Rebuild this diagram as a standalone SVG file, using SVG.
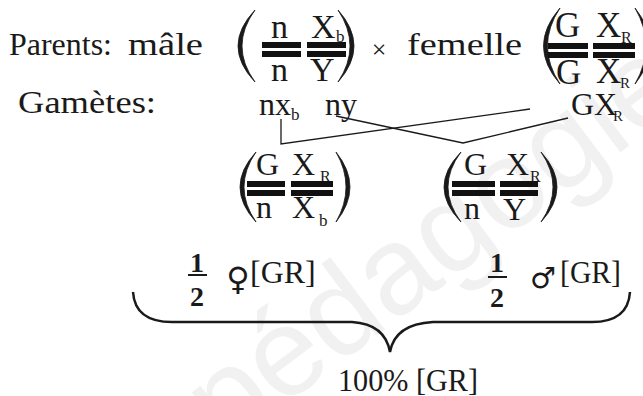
<svg xmlns="http://www.w3.org/2000/svg" width="643" height="396" viewBox="0 0 643 396" font-family="Liberation Serif, Times New Roman, serif">
<style>
.t{font-family:'Liberation Serif','Times New Roman',Tinos,'DejaVu Serif',serif;fill:#1a1a1a}
.m{font-size:32px}
.c{font-size:34px}
.s{font-size:17px}
.b{font-size:28px;font-weight:bold}
.bar{fill:#111}
.par{fill:#1a1a1a;stroke:#1a1a1a;stroke-width:0.8}
.ln{fill:none;stroke:#1a1a1a;stroke-width:1.3}
.wm{font-family:'Liberation Sans',Arial,sans-serif;font-size:125px;fill:#f1f1f1}
</style>
<text class="wm" transform="translate(225,450) rotate(-37)">pédagogie</text>

<g id="labels">
<text class="t m" x="9" y="55" textLength="103" lengthAdjust="spacingAndGlyphs">Parents:</text>
<text class="t m" x="128" y="55" textLength="75" lengthAdjust="spacingAndGlyphs">mâle</text>
<text class="t m" x="18" y="113" textLength="138" lengthAdjust="spacingAndGlyphs">Gamètes:</text>
<text class="t m" x="379" y="58" text-anchor="middle" style="font-size:26px">×</text>
<text class="t m" x="407" y="55" textLength="115" lengthAdjust="spacingAndGlyphs">femelle</text>
</g>

<g id="parent-male">
<path class="par" d="M255,10 Q221,46 255,82 Q229,46 255,10 Z"/>
<path class="par" d="M338,10 Q370,46 338,82 Q362,46 338,10 Z"/>
<text class="t c" x="271" y="38">n</text>
<text class="t c" x="311" y="38">X</text>
<text class="t s" x="336" y="42">b</text>
<rect class="bar" x="262" y="42" width="39" height="6"/>
<rect class="bar" x="262" y="51" width="39" height="6"/>
<rect class="bar" x="307" y="42" width="39" height="6"/>
<rect class="bar" x="307" y="51" width="39" height="6"/>
<text class="t c" x="271" y="81">n</text>
<text class="t c" x="310" y="81">Y</text>
</g>

<g id="parent-femelle">
<path class="par" d="M560,8 Q527,46 560,84 Q535,46 560,8 Z"/>
<path class="par" d="M635,8 Q665,46 635,84 Q657,46 635,8 Z"/>
<text class="t c" x="555" y="37" style="font-size:35px">G</text>
<text class="t c" x="596" y="37" style="font-size:35px">X</text>
<text class="t s" x="621" y="43" style="font-size:16px">R</text>
<rect class="bar" x="548" y="43" width="40" height="6"/>
<rect class="bar" x="548" y="52" width="40" height="6"/>
<rect class="bar" x="593" y="43" width="42" height="6"/>
<rect class="bar" x="593" y="52" width="42" height="6"/>
<text class="t c" x="556" y="84" style="font-size:35px">G</text>
<text class="t c" x="596" y="83" style="font-size:35px">X</text>
<text class="t s" x="620" y="88" style="font-size:15px">R</text>
</g>

<g id="gametes">
<text class="t m" x="259" y="115">nx</text>
<text class="t s" x="291" y="120">b</text>
<text class="t m" x="325" y="115">ny</text>
<text class="t m" x="571" y="115">GX</text>
<text class="t s" x="613" y="121" style="font-size:15px">R</text>
</g>

<g id="connectors">
<polyline class="ln" points="281,119 281,144 530,109"/>
<polyline class="ln" points="336,116 463,143 568,118"/>
</g>

<g id="descendant-femelle">
<path class="par" d="M256,152 Q224,187 256,222 Q232,187 256,152 Z"/>
<path class="par" d="M336,152 Q364,187 336,222 Q356,187 336,152 Z"/>
<text class="t c" x="256" y="175" style="font-size:32px">G</text>
<text class="t c" x="292" y="175" style="font-size:32px">X</text>
<text class="t s" x="320" y="182" style="font-size:16px">R</text>
<rect class="bar" x="247" y="181" width="38" height="6"/>
<rect class="bar" x="247" y="190" width="38" height="6"/>
<rect class="bar" x="291" y="181" width="42" height="6"/>
<rect class="bar" x="291" y="190" width="42" height="6"/>
<text class="t c" x="256" y="218" style="font-size:32px">n</text>
<text class="t c" x="292" y="218" style="font-size:32px">X</text>
<text class="t s" x="319" y="226">b</text>
</g>

<g id="descendant-male">
<path class="par" d="M461,152 Q427,187 461,222 Q435,187 461,152 Z"/>
<path class="par" d="M541,152 Q573,187 541,222 Q565,187 541,152 Z"/>
<text class="t c" x="464" y="175" style="font-size:32px">G</text>
<text class="t c" x="506" y="175" style="font-size:32px">X</text>
<text class="t s" x="530" y="182" style="font-size:16px">R</text>
<rect class="bar" x="452" y="181" width="43" height="6"/>
<rect class="bar" x="452" y="190" width="43" height="6"/>
<rect class="bar" x="500" y="181" width="38" height="6"/>
<rect class="bar" x="500" y="190" width="38" height="6"/>
<text class="t c" x="464" y="219" style="font-size:32px">n</text>
<text class="t c" x="503" y="220" style="font-size:32px">Y</text>
</g>

<g id="resultat-femelle">
<text class="t b" x="197" y="272" text-anchor="middle">1</text>
<line x1="188" y1="275" x2="207" y2="275" stroke="#1a1a1a" stroke-width="2"/>
<text class="t b" x="197" y="306" text-anchor="middle">2</text>
<text x="238" y="290" text-anchor="middle" style="font-family:'DejaVu Sans',sans-serif;font-size:32px;fill:#1a1a1a">♀</text>
<text class="t m" x="250" y="283">[GR]</text>
</g>

<g id="resultat-male">
<text class="t b" x="497" y="272" text-anchor="middle">1</text>
<line x1="488" y1="277" x2="507" y2="277" stroke="#1a1a1a" stroke-width="2"/>
<text class="t b" x="497" y="307" text-anchor="middle">2</text>
<text x="543" y="288" text-anchor="middle" style="font-family:'DejaVu Sans',sans-serif;font-size:29px;fill:#1a1a1a">♂</text>
<text class="t m" x="560" y="283" textLength="61" lengthAdjust="spacingAndGlyphs">[GR]</text>
</g>

<g id="accolade">
<path d="M133,292 Q135,322 172,322 L352,322 Q385,324 390,352 Q395,324 433,322 L592,322 Q628,322 630,292" fill="none" stroke="#1a1a1a" stroke-width="2.5"/>
<text class="t m" x="338" y="391" style="font-size:31px" textLength="140" lengthAdjust="spacingAndGlyphs">100% [GR]</text>
</g>
</svg>
